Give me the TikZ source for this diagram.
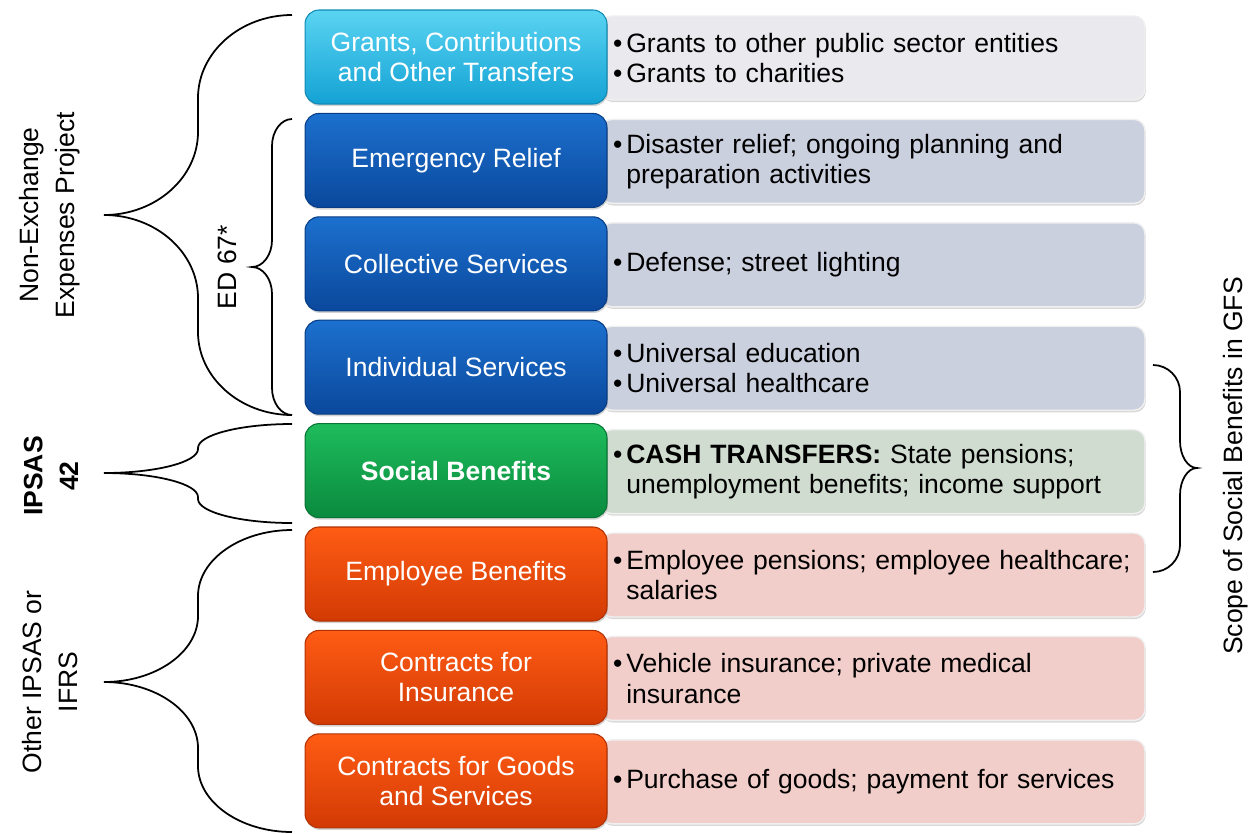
\documentclass[tikz,border=0pt]{standalone}
\usepackage{fontspec}
\setmainfont{Liberation Sans}
\usetikzlibrary{shadows}

\definecolor{grantTop}{HTML}{5AD4F2}
\definecolor{grantBot}{HTML}{14A2D4}
\definecolor{blueTop}{HTML}{1C70CE}
\definecolor{blueBot}{HTML}{0A489C}
\definecolor{greenTop}{HTML}{1EBC5C}
\definecolor{greenBot}{HTML}{0A8A3E}
\definecolor{orangeTop}{HTML}{FF5C14}
\definecolor{orangeBot}{HTML}{D23A04}
\definecolor{grantBg}{HTML}{E9E9EE}
\definecolor{blueBg}{HTML}{CBD0DF}
\definecolor{greenBg}{HTML}{CFDCCF}
\definecolor{orangeBg}{HTML}{F2CECA}

\newcommand{\boxfont}{\fontsize{15.1pt}{17.2pt}\selectfont}
\newcommand{\sidefont}{\fontsize{15.1pt}{20.4pt}\selectfont}
\newcommand{\itembul}{\makebox[0.5em][l]{\textbullet}}
\newcommand{\itemcont}{\hspace*{0.5em}}

% curly brace: end x, middle x, tip x, top y, tip y, bottom y, arc height
\newcommand{\curlybrace}[7]{%
  \draw[line width=1pt] (#1,#4) .. controls ({#1-0.55*(#1-#2)},#4) and (#2,{#4+0.45*#7}) .. (#2,{#4+#7})
    -- (#2,{#5-#7}) .. controls (#2,{#5-0.45*#7}) and ({#3+0.55*(#2-#3)},#5) .. (#3,#5)
    .. controls ({#3+0.55*(#2-#3)},#5) and (#2,{#5+0.45*#7}) .. (#2,{#5+#7})
    -- (#2,{#6-#7}) .. controls (#2,{#6-0.45*#7}) and ({#1-0.55*(#1-#2)},#6) .. (#1,#6);}

\tikzset{
  catbox/.style={rounded corners=0.28cm, minimum width=6.04cm, minimum height=1.88cm,
    align=center, text=white, font=\boxfont, line width=0.6pt,
    drop shadow={opacity=0.35, shadow xshift=0.5pt, shadow yshift=-1.2pt}},
  exbox/.style={rounded corners=0.22cm, minimum width=10.88cm, minimum height=1.68cm,
    text width=10.4cm, inner xsep=0.24cm, align=left, font=\boxfont,
    draw=white!88!gray, line width=0.8pt,
    drop shadow={opacity=0.3, shadow xshift=0.5pt, shadow yshift=-1.2pt}},
  sidelabel/.style={rotate=90, align=center, font=\sidefont},
}

\begin{document}
\begin{tikzpicture}[x=0.02cm, y=-0.02cm]
  \useasboundingbox (0,0) rectangle (1253,833);

  % examples, behind the categories
  \node[exbox, fill=grantBg] (ex1) at (873,58) {\itembul Grants to other public sector entities\\\itembul Grants to charities};
  \node[exbox, fill=blueBg] (ex2) at (873,161.4) {\itembul Disaster relief; ongoing planning and\\\itemcont preparation activities};
  \node[exbox, fill=blueBg] (ex3) at (873,264.8) {\itembul Defense; street lighting};
  \node[exbox, fill=blueBg] (ex4) at (873,368.2) {\itembul Universal education\\\itembul Universal healthcare};
  \node[exbox, fill=greenBg] (ex5) at (873,471.6) {\itembul\textbf{CASH TRANSFERS:} State pensions;\\\itemcont unemployment benefits; income support};
  \node[exbox, fill=orangeBg] (ex6) at (873,575) {\itembul Employee pensions; employee healthcare;\\\itemcont salaries};
  \node[exbox, fill=orangeBg] (ex7) at (873,678.4) {\itembul Vehicle insurance; private medical\\\itemcont insurance};
  \node[exbox, fill=orangeBg] (ex8) at (873,781.8) {\itembul Purchase of goods; payment for services};

  % categories
  \node[catbox, top color=grantTop, bottom color=grantBot, draw=grantBot!85!black] (cat1) at (456,57) {Grants, Contributions\\and Other Transfers};
  \node[catbox, top color=blueTop, bottom color=blueBot, draw=blueBot!85!black] (cat2) at (456,160.4) {Emergency Relief};
  \node[catbox, top color=blueTop, bottom color=blueBot, draw=blueBot!85!black] (cat3) at (456,263.8) {Collective Services};
  \node[catbox, top color=blueTop, bottom color=blueBot, draw=blueBot!85!black] (cat4) at (456,367.2) {Individual Services};
  \node[catbox, top color=greenTop, bottom color=greenBot, draw=greenBot!85!black] (cat5) at (456,470.6) {\bfseries Social Benefits};
  \node[catbox, top color=orangeTop, bottom color=orangeBot, draw=orangeBot!85!black] (cat6) at (456,574) {Employee Benefits};
  \node[catbox, top color=orangeTop, bottom color=orangeBot, draw=orangeBot!85!black] (cat7) at (456,677.4) {Contracts for\\Insurance};
  \node[catbox, top color=orangeTop, bottom color=orangeBot, draw=orangeBot!85!black] (cat8) at (456,780.8) {Contracts for Goods\\and Services};

  % braces
  \curlybrace{292}{198}{104}{15}{215}{415}{83}
  \curlybrace{292}{272}{252}{119}{267}{415}{27}
  \curlybrace{292}{198}{104}{424}{473}{523}{24}
  \curlybrace{292}{198}{104}{530}{682}{832}{66}
  \curlybrace{1153}{1180}{1197}{365}{468}{572}{27}

  % labels
  \node[sidelabel] (nonex) at (50,215) {Non-Exchange\\Expenses Project};
  \node[sidelabel] (ed) at (227,267) {ED 67*};
  \node[sidelabel] (ipsas) at (51,476) {\bfseries IPSAS\\\bfseries 42};
  \node[sidelabel] (other) at (50,682) {Other IPSAS or\\IFRS};
  \node[sidelabel] (gfs) at (1236,466) {Scope of Social Benefits in GFS};
\end{tikzpicture}
\end{document}
